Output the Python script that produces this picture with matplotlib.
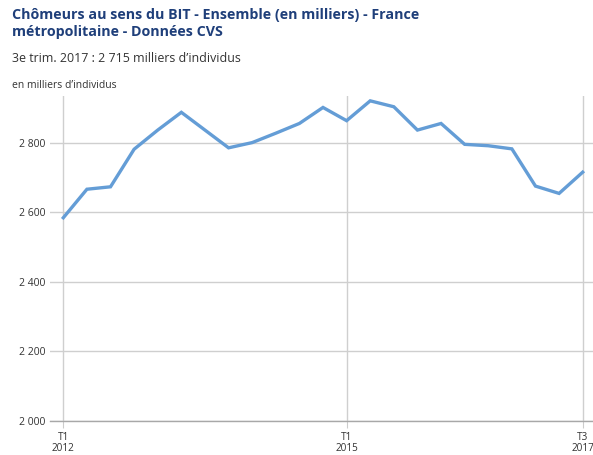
import matplotlib
matplotlib.use("Agg")
import matplotlib.pyplot as plt

plt.rcParams['font.family'] = ['Open Sans', 'DejaVu Sans']

# trimestres T1 2012 -> T3 2017
trimestres = list(range(23))
chomeurs = [2584, 2666, 2673, 2781, 2836, 2887, 2836, 2785, 2800, 2827,
            2855, 2901, 2863, 2920, 2903, 2836, 2855, 2795, 2791, 2782,
            2675, 2654, 2715]
pos_ticks_x = [0, 12, 22]
etiquettes_x = ["T1\n2012", "T1\n2015", "T3\n2017"]
ticks_y = [2000, 2200, 2400, 2600, 2800]
etiquettes_y = ["2 000", "2 200", "2 400", "2 600", "2 800"]

W, H = 593, 455
fig = plt.figure(figsize=(W / 100, H / 100), dpi=100)

left, right, bottom, top = 50, 593, 421, 96
ax = fig.add_axes([left / W, 1 - bottom / H, (right - left) / W, (bottom - top) / H])

ax.plot(trimestres, chomeurs, color="#649dd6", lw=2.4, solid_joinstyle="miter", zorder=3)

# x: 0 -> px 63.3, 22 -> px 582.7
px_par_trim = (582.7 - 63.3) / 22
ax.set_xlim((left - 63.3) / px_par_trim, (right - 63.3) / px_par_trim)
ymax = 2000 + (bottom - top) / 0.348
ax.set_ylim(2000, ymax)

ax.set_xticks(pos_ticks_x)
ax.set_xticklabels(etiquettes_x, fontsize=7.2, color="#333333", linespacing=1.0)
ax.set_yticks(ticks_y)
ax.set_yticklabels(etiquettes_y, fontsize=7.5, color="#333333")

ax.grid(True, color="#cfcfcf", lw=1)
ax.set_axisbelow(True)
for s in ax.spines.values():
    s.set_visible(False)
ax.axhline(2000, color="#a8a8a8", lw=1, zorder=2, clip_on=False)
ax.tick_params(axis="x", length=5, color="#cccccc", pad=3)
ax.tick_params(axis="y", length=0, pad=3)

fig.text(12 / W, 1 - 8 / H, "Chômeurs au sens du BIT - Ensemble (en milliers) - France\nmétropolitaine - Données CVS",
         fontsize=10.3, fontweight="bold", color="#1f3f7a", va="top", ha="left", linespacing=1.25)
fig.text(12 / W, 1 - 58 / H, "3e trim. 2017 : 2 715 milliers d’individus",
         fontsize=8.9, color="#333333", va="center", ha="left")
fig.text(12 / W, 1 - 85 / H, "en milliers d’individus",
         fontsize=7.5, color="#333333", va="center", ha="left")

fig.savefig("out.png", dpi=100)
